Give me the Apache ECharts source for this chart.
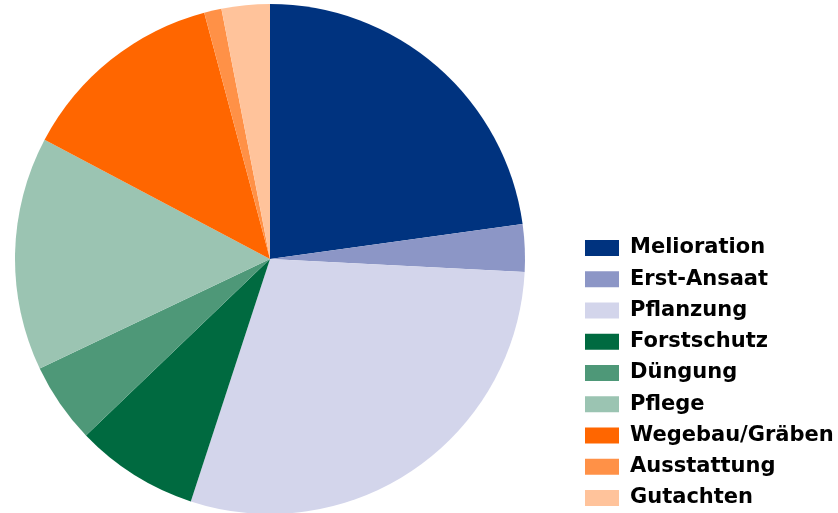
<!DOCTYPE html>
<html>
<head>
<meta charset="utf-8">
<script src="https://cdn.jsdelivr.net/npm/echarts@6/dist/echarts.min.js"></script>
<style>html,body{margin:0;padding:0;background:#fff;}#c{width:838px;height:513px;}</style>
</head>
<body>
<div id="c"></div>
<script>
const categories = ['Melioration','Erst-Ansaat','Pflanzung','Forstschutz','Düngung','Pflege','Wegebau/Gräben','Ausstattung','Gutachten'];
const values = [22.8, 3.0, 29.2, 7.8, 5.1, 14.8, 13.1, 1.1, 3.05];
const colors = ['#00337F','#8C96C6','#D3D5EB','#006A40','#4E9878','#9BC4B2','#FF6600','#FF9147','#FFC39B'];

const chart = echarts.init(document.getElementById('c'));
chart.setOption({
  animation: false,
  backgroundColor: '#fff',
  color: colors,
  legend: {
    orient: 'vertical',
    left: 585,
    top: 237.5,
    height: 300,
    padding: 0,
    itemWidth: 34,
    itemHeight: 16,
    itemGap: 10.25,
    icon: 'rect',
    textStyle: {
      fontFamily: 'DejaVu Sans',
      fontWeight: 'bold',
      fontSize: 21,
      lineHeight: 21,
      color: '#000',
      padding: [0, 0, 0, 6]
    },
    data: categories
  },
  series: [{
    type: 'pie',
    center: [270, 259],
    radius: 255,
    startAngle: 90,
    clockwise: true,
    label: { show: false },
    labelLine: { show: false },
    itemStyle: { borderWidth: 0 },
    emphasis: { disabled: true },
    data: categories.map((n, i) => ({ name: n, value: values[i] }))
  }]
});
</script>
</body>
</html>
